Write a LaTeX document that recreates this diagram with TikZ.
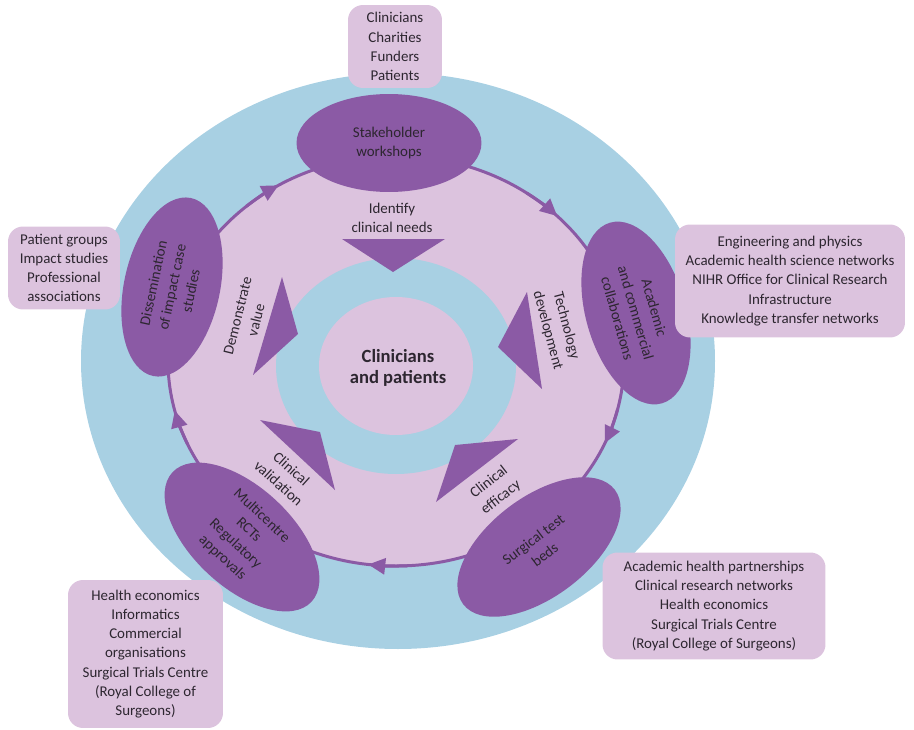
\documentclass[tikz,border=0pt]{standalone}
\usepackage{fontspec}
\setmainfont{Carlito}
\usetikzlibrary{shapes.geometric,arrows.meta}
\definecolor{ringblue}{RGB}{168,208,227}
\definecolor{lilac}{RGB}{220,195,222}
\definecolor{plum}{RGB}{139,90,165}
\definecolor{ink}{RGB}{45,38,48}
\newcommand{\diagfont}{\fontsize{8.5}{10.9}\selectfont}
\tikzset{
  partner/.style={rectangle,rounded corners=0.3cm,fill=lilac,text=ink,
    align=center,font=\diagfont,inner sep=0pt},
  activity/.style={ellipse,fill=plum,text=ink,align=center,font=\diagfont,
    inner sep=-0.15cm},
  stage/.style={text=ink,align=center,font=\diagfont,inner sep=0pt},
  cycle/.style={draw=plum,line width=1.7pt}
}

\begin{document}
\begin{tikzpicture}[x=0.02cm,y=-0.02cm]
  \useasboundingbox (0,0) rectangle (914,730);
  % rings
  \fill[ringblue] (398,361) ellipse [x radius=317,y radius=288];
  \fill[lilac] (396,361) ellipse [x radius=228,y radius=205];
  \draw[cycle] (396,361) ellipse [x radius=228,y radius=205];
  \foreach \t in {239,-45,23.6,97,166}
    \draw[cycle,-{Triangle[length=0.34cm,width=0.32cm]}]
      (396,361) ++(\t-10:228 and 205)
      arc [start angle=\t-10,end angle=\t,x radius=228,y radius=205];
  \fill[ringblue] (396,366) ellipse [x radius=120,y radius=108];
  \fill[lilac] (396,366) ellipse [x radius=77,y radius=69];

  % arrowheads towards the centre
  \fill[plum] (342,239) -- (445,239) -- (393,272) -- cycle;
  \fill[plum] (282,277) -- (298,334) -- (253,375) -- cycle;
  \fill[plum] (527,292) -- (498,347) -- (542,389) -- cycle;
  \fill[plum] (260,420) -- (320,432) -- (335,490) -- cycle;
  \fill[plum] (455,445) -- (518,439) -- (436,502) -- cycle;

  \node[font=\bfseries\fontsize{10.6}{12.4}\selectfont,text=ink,align=center]
    (core) at (398,368) {Clinicians\\and patients};

  \node[stage] (needs) at (392,218) {Identify\\clinical needs};
  \node[stage,rotate=76] (value) at (247,318) {Demonstrate\\value};
  \node[stage,rotate=-75] (techdev) at (557,328) {Technology\\development};
  \node[stage,rotate=-42] (validation) at (285,476) {Clinical\\validation};
  \node[stage,rotate=38] (efficacy) at (495,490) {Clinical\\efficacy};

  % activities on the cycle
  \node[activity,minimum width=3.7cm,minimum height=1.96cm] (workshops)
    at (389,143) {Stakeholder\\workshops};
  \node[activity,rotate=-74,minimum width=3.76cm,minimum height=2cm] (collab)
    at (636,313) {Academic\\and commercial\\collaborations};
  \node[activity,rotate=37,minimum width=3.8cm,minimum height=2cm] (testbeds)
    at (539,547) {Surgical test\\beds};
  \node[activity,rotate=-43,minimum width=3.8cm,minimum height=2cm] (rcts)
    at (242,537) {Multicentre\\RCTs\\Regulatory\\approvals};
  \node[activity,rotate=78,minimum width=3.64cm,minimum height=1.92cm] (dissem)
    at (172,287) {Dissemination\\of impact case\\studies};

  % partners
  \node[partner,minimum width=1.88cm,minimum height=1.66cm] (funders)
    at (395,46.5) {Clinicians\\Charities\\Funders\\Patients};
  \node[partner,minimum width=2.24cm,minimum height=1.66cm] (groups)
    at (64,268) {Patient groups\\Impact studies\\Professional\\associations};
  \node[partner,minimum width=4.6cm,minimum height=2.26cm] (networks)
    at (790,281) {Engineering and physics\\Academic health science networks\\
    NIHR Office for Clinical Research\\Infrastructure\\Knowledge transfer networks};
  \node[partner,minimum width=4.46cm,minimum height=2.14cm] (partnerships)
    at (714,606) {Academic health partnerships\\Clinical research networks\\
    Health economics\\Surgical Trials Centre\\(Royal College of Surgeons)};
  \node[partner,minimum width=3.1cm,minimum height=2.96cm] (economics)
    at (145.5,654) {Health economics\\Informatics\\Commercial\\organisations\\
    Surgical Trials Centre\\(Royal College of\\Surgeons)};
\end{tikzpicture}
\end{document}
